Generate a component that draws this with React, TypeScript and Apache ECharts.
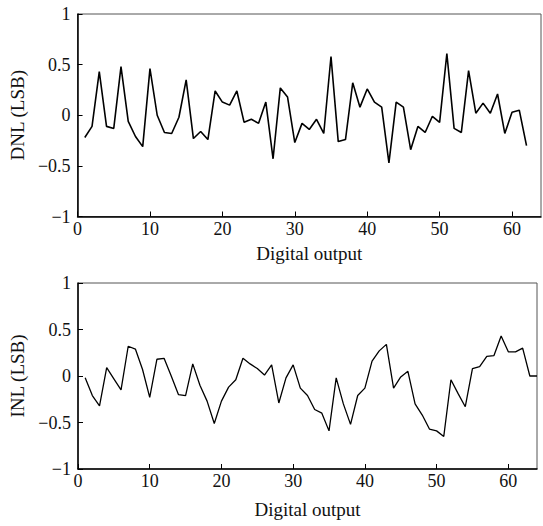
import React, { useEffect, useRef } from "react";
import * as echarts from "echarts";

const dnlX: number[] = Array.from({ length: 62 }, (_, i) => i + 1);
const dnlValues: number[] = [
  -0.22, -0.11, 0.43, -0.11, -0.13, 0.48, -0.06, -0.21, -0.31, 0.46,
  0.0, -0.17, -0.18, -0.02, 0.35, -0.23, -0.16, -0.24, 0.24, 0.13,
  0.10, 0.24, -0.07, -0.04, -0.08, 0.13, -0.43, 0.27, 0.18, -0.27,
  -0.08, -0.14, -0.04, -0.18, 0.58, -0.26, -0.24, 0.32, 0.08, 0.26,
  0.13, 0.08, -0.47, 0.13, 0.08, -0.34, -0.11, -0.17, -0.01, -0.07,
  0.61, -0.13, -0.17, 0.44, 0.02, 0.12, 0.02, 0.21, -0.18, 0.03,
  0.05, -0.30,
];

const inlX: number[] = Array.from({ length: 64 }, (_, i) => i + 1);
const inlValues: number[] = [
  -0.02, -0.21, -0.32, 0.09, -0.03, -0.15, 0.32, 0.29, 0.07, -0.23,
  0.18, 0.19, 0.0, -0.2, -0.21, 0.13, -0.1, -0.27, -0.51, -0.27,
  -0.12, -0.04, 0.19, 0.13, 0.08, 0.01, 0.12, -0.29, -0.02, 0.12,
  -0.13, -0.21, -0.36, -0.4, -0.59, -0.02, -0.3, -0.52, -0.21, -0.13,
  0.16, 0.27, 0.34, -0.13, -0.01, 0.05, -0.3, -0.42, -0.57, -0.59,
  -0.65, -0.04, -0.19, -0.33, 0.08, 0.1, 0.21, 0.22, 0.43, 0.26,
  0.26, 0.3, 0.0, 0.0,
];

const xTitle = "Digital output";
const yTitles = ["DNL (LSB)", "INL (LSB)"];

const FONT = "'Liberation Serif', 'DejaVu Serif', serif";

export default function App() {
  const ref = useRef<HTMLDivElement>(null);
  useEffect(() => {
    if (!ref.current) return;
    const chart = echarts.init(ref.current, undefined, { renderer: "svg" });
    const fmtY = (v: number) => String(v).replace("-", "\u2212");
    const xAxisBase = (gridIndex: number, gap: number) => ({
      type: "value" as const,
      gridIndex,
      min: 0,
      max: 64,
      interval: 10,
      name: xTitle,
      nameLocation: "middle" as const,
      nameGap: gap,
      nameTextStyle: { fontFamily: FONT, fontSize: 19, color: "#111" },
      axisLine: { show: true, onZero: false, lineStyle: { color: "#000", width: 1.5 } },
      axisTick: { show: true, inside: true, length: 5, lineStyle: { color: "#000" } },
      axisLabel: {
        fontFamily: FONT,
        fontSize: 18,
        color: "#111",
        margin: 3,
        showMaxLabel: false,
      },
      splitLine: { show: false },
    });
    const yAxisBase = (gridIndex: number, name: string) => ({
      type: "value" as const,
      gridIndex,
      min: -1,
      max: 1,
      interval: 0.5,
      name,
      nameLocation: "middle" as const,
      nameGap: 41,
      nameTextStyle: { fontFamily: FONT, fontSize: 19, color: "#111" },
      axisLine: { show: true, onZero: false, lineStyle: { color: "#000", width: 1.5 } },
      axisTick: { show: true, inside: true, length: 5, lineStyle: { color: "#000" } },
      axisLabel: {
        fontFamily: FONT,
        fontSize: 18,
        color: "#111",
        margin: 7,
        formatter: fmtY,
      },
      splitLine: { show: false },
    });
    chart.setOption({
      animation: false,
      backgroundColor: "#fff",
      grid: [
        { left: 76, top: 14, right: 2, bottom: 309.5, show: true, borderColor: "#555", borderWidth: 1 },
        { left: 78, top: 283, right: 6, bottom: 57, show: true, borderColor: "#555", borderWidth: 1 },
      ],
      xAxis: [xAxisBase(0, 27), xAxisBase(1, 31)],
      yAxis: [yAxisBase(0, yTitles[0]), yAxisBase(1, yTitles[1])],
      series: [
        {
          type: "line",
          xAxisIndex: 0,
          yAxisIndex: 0,
          data: dnlX.map((x, i) => [x, dnlValues[i]]),
          showSymbol: false,
          lineStyle: { color: "#000", width: 1.6 },
        },
        {
          type: "line",
          xAxisIndex: 1,
          yAxisIndex: 1,
          data: inlX.map((x, i) => [x, inlValues[i]]),
          showSymbol: false,
          lineStyle: { color: "#000", width: 1.3 },
        },
      ],
    });
    return () => chart.dispose();
  }, []);
  return (
    <div
      ref={ref}
      style={{ position: "fixed", left: 0, top: 0, width: 543, height: 526 }}
    />
  );
}
